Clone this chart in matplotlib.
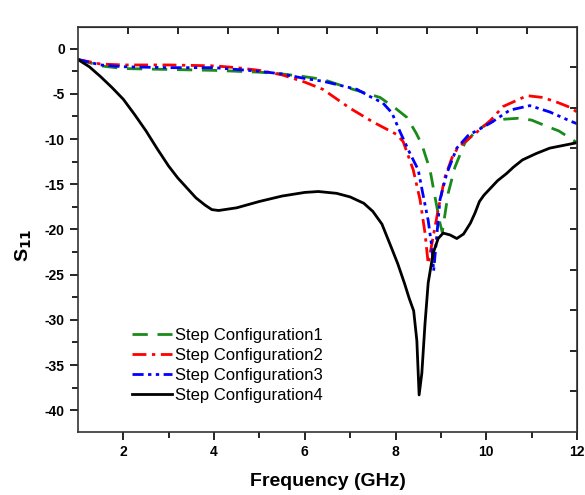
import numpy as np
import matplotlib
matplotlib.use('Agg')
import matplotlib.pyplot as plt

plt.rcParams['font.family'] = ['Liberation Sans', 'DejaVu Sans']
plt.rcParams['axes.unicode_minus'] = False

# (frequency in GHz, S11 in dB)
freq_1 = [1.0, 1.5, 2.0, 3.0, 4.0, 5.0, 5.5, 6.0, 6.4, 7.0, 7.4, 7.66, 8.0, 8.25,
          8.45, 8.58, 8.76, 8.87, 8.98, 9.03, 9.16, 9.31, 9.53, 9.8, 10.1, 10.4,
          10.7, 11.0, 11.34, 11.6, 11.85, 12.0]
s11_1 = [-1.2, -1.9, -2.2, -2.3, -2.4, -2.6, -2.8, -3.1, -3.4, -4.4, -5.0, -5.4, -6.6, -7.6,
         -9.3, -10.6, -13.4, -16.4, -19.3, -20.3, -16.0, -13.1, -10.4, -9.0, -8.1, -7.8,
         -7.7, -7.9, -8.6, -9.1, -9.9, -10.4]

freq_2 = [1.0, 1.5, 2.0, 3.0, 4.0, 4.5, 5.0, 5.5, 6.0, 6.4, 7.0, 7.5, 8.03, 8.17,
          8.39, 8.54, 8.65, 8.72, 8.94, 9.09, 9.25, 9.38, 9.8, 10.1, 10.37, 10.9,
          11.25, 11.6, 11.85, 12.0]
s11_2 = [-1.2, -1.7, -1.8, -1.8, -1.9, -2.1, -2.4, -2.9, -3.7, -4.5, -6.6, -8.1, -9.5, -10.3,
         -13.4, -16.7, -20.4, -23.8, -17.8, -14.2, -12.0, -10.9, -9.2, -7.9, -6.4, -5.2,
         -5.4, -6.0, -6.5, -7.0]

freq_3 = [1.0, 1.5, 2.0, 3.0, 4.0, 5.0, 5.5, 6.0, 6.4, 7.15, 7.44, 7.72, 7.92, 8.1,
          8.32, 8.5, 8.6, 8.72, 8.8, 8.84, 8.98, 9.13, 9.35, 9.6, 10.1, 10.52,
          10.96, 11.4, 11.85, 12.0]
s11_3 = [-1.2, -1.8, -2.0, -2.1, -2.1, -2.5, -2.8, -3.3, -3.6, -4.5, -5.3, -6.0, -7.1, -9.2,
         -11.6, -13.4, -16.0, -19.0, -21.9, -24.6, -16.7, -13.8, -11.0, -9.6, -8.2, -6.8,
         -6.3, -7.0, -8.0, -8.3]

freq_4 = [1.0, 1.25, 1.5, 1.75, 2.0, 2.25, 2.5, 2.75, 3.0, 3.2, 3.4, 3.6, 3.8, 3.95, 4.1,
          4.5, 5.0, 5.5, 6.0, 6.3, 6.7, 7.0, 7.3, 7.5, 7.7, 7.9, 8.05, 8.2, 8.3, 8.4,
          8.47, 8.52, 8.58, 8.65, 8.72, 8.83, 8.94, 9.05, 9.2, 9.35, 9.5, 9.65, 9.75,
          9.85, 9.95, 10.1, 10.25, 10.45, 10.6, 10.8, 11.1, 11.4, 11.7, 12.0]
s11_4 = [-1.2, -2.0, -3.1, -4.3, -5.6, -7.3, -9.1, -11.1, -13.0, -14.3, -15.4, -16.5, -17.3, -17.8, -17.9,
         -17.6, -16.9, -16.3, -15.9, -15.8, -16.0, -16.4, -17.1, -18.0, -19.4, -21.9, -23.8, -26.0, -27.6, -29.0,
         -32.3, -38.3, -35.9, -30.4, -25.9, -22.6, -21.0, -20.4, -20.6, -21.0, -20.5, -19.3, -18.2,
         -16.9, -16.2, -15.4, -14.6, -13.8, -13.1, -12.3, -11.6, -11.0, -10.7, -10.4]

labels = ['Step Configuration1', 'Step Configuration2',
          'Step Configuration3', 'Step Configuration4']
x_ticks = [2, 4, 6, 8, 10, 12]
y_ticks = [0, -5, -10, -15, -20, -25, -30, -35, -40]

fig = plt.figure(figsize=(5.85, 4.95), dpi=100)
ax = fig.add_axes([0.1333, 0.1273, 0.853, 0.8182])

ax.plot(freq_1, s11_1, color='#1a8a1a', lw=2, dashes=(5.5, 3.5), label=labels[0])
ax.plot(freq_2, s11_2, color='#ff0000', lw=2, dashes=(5, 2, 1.2, 2), label=labels[1])
ax.plot(freq_3, s11_3, color='#0000ff', lw=2, dashes=(4, 1.6, 1.2, 1.6, 1.2, 1.6), label=labels[2])
ax.plot(freq_4, s11_4, color='black', lw=2, label=labels[3])

ax.set_xlim(1, 12)
ax.set_ylim(-42.4, 2.4)
ax.set_xticks(x_ticks)
ax.set_xticks([3, 5, 7, 9, 11], minor=True)
ax.set_yticks(y_ticks)
ax.set_yticks(np.arange(-37.5, 0, 5), minor=True)
ax.tick_params(which='major', direction='out', length=6, width=1.2,
               labelsize=10, top=False, right=False)
ax.tick_params(which='minor', direction='out', length=4, width=1.2, top=False, right=False)
for lab in ax.get_xticklabels() + ax.get_yticklabels():
    lab.set_fontweight('bold')

for sp in ax.spines.values():
    sp.set_linewidth(1.2)
    sp.set_color('#333333')

# top and right axes carry plain ticks, ten equal divisions
top = ax.secondary_xaxis('top')
top.set_xticks(np.linspace(1, 12, 11)[1:-1])
top.tick_params(direction='in', length=5, width=1.2, labeltop=False)
right = ax.secondary_yaxis('right')
right.set_yticks(np.linspace(-42.4, 2.4, 11)[1:-1])
right.tick_params(direction='in', length=5, width=1.2, labelright=False)

ax.set_xlabel('Frequency (GHz)', fontsize=14, fontweight='bold')
ax.xaxis.set_label_coords(0.5, -0.102)
ax.set_ylabel('S$_{\\mathbf{11}}$', fontsize=14, fontweight='bold')
ax.yaxis.set_label_coords(-0.088, 0.46)

ax.legend(loc='upper left', bbox_to_anchor=(0.108, 0.256), frameon=False,
          fontsize=12, handlelength=2.4, handletextpad=0.2, labelspacing=0.3,
          borderpad=0, borderaxespad=0)

fig.savefig('out.png', dpi=100)
